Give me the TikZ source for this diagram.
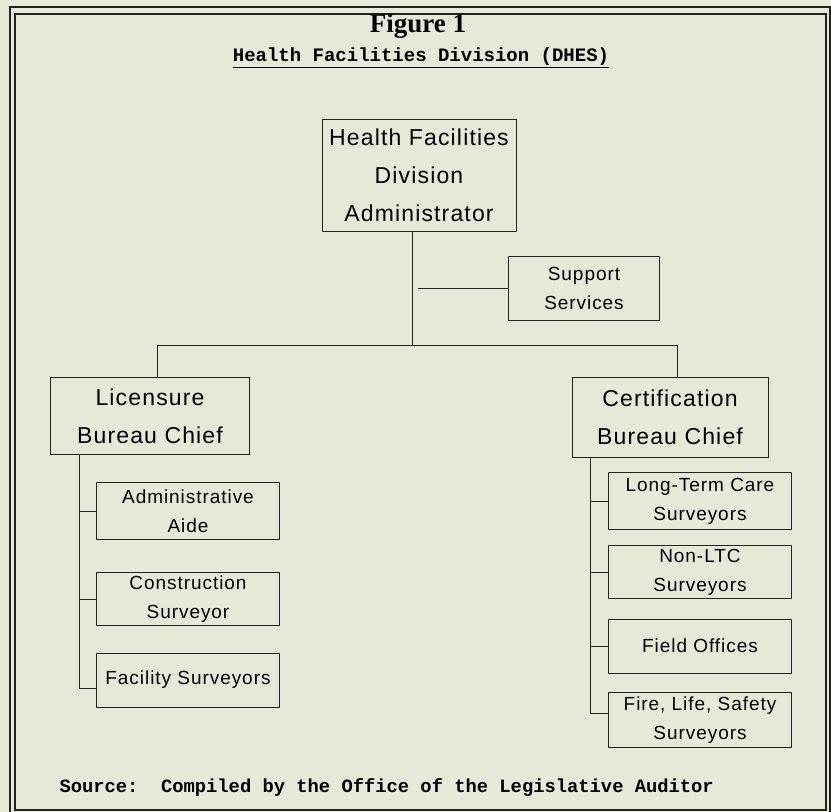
\documentclass[tikz,border=0pt]{standalone}
\usepackage{fontspec}
\setmainfont{Liberation Sans}
\newfontfamily\bigboxfont[LetterSpace=5]{Liberation Sans}
\newfontfamily\smallboxfont[LetterSpace=5]{Liberation Sans}
\newfontfamily\figfont{Liberation Serif}
\newfontfamily\typefont{Liberation Mono}
\definecolor{paper}{RGB}{232,232,217}
\definecolor{ink}{RGB}{35,35,30}

\begin{document}
\begin{tikzpicture}[x=1pt,y=-1pt,
    bigbox/.style={draw=ink,line width=1pt,align=center,inner sep=0pt,
      font=\bigboxfont\fontsize{23}{38}\selectfont},
    smallbox/.style={draw=ink,line width=1pt,align=center,inner sep=0pt,
      minimum width=183pt,font=\smallboxfont\fontsize{19}{29}\selectfont},
    link/.style={draw=ink,line width=1pt}]
    \fill[paper] (0,0) rectangle (831,812);
    \useasboundingbox (0,0) rectangle (831,812);
    % frame
    \draw[ink,line width=2pt] (10,820) -- (10,7) -- (830,7) -- (830,820);
    \draw[ink,line width=2pt] (15,14) rectangle (826,810);
    % headings
    \node (fig) at (418,26) {\figfont\bfseries\fontsize{27}{27}\selectfont Figure 1};
    \node (sub) at (421,58) {\typefont\bfseries\fontsize{19}{19}\selectfont\underline{Health Facilities Division (DHES)}};
    % boxes
    \node[bigbox,minimum width=194pt,minimum height=112pt] (adm) at (419,175)
      {Health Facilities\\Division\\Administrator};
    \node[smallbox,minimum width=151pt,minimum height=64pt] (supp) at (584,288)
      {Support\\Services};
    \node[bigbox,minimum width=199pt,minimum height=77pt] (lic) at (150,416)
      {Licensure\\Bureau Chief};
    \node[bigbox,minimum width=196pt,minimum height=80pt] (cert) at (670,417)
      {Certification\\Bureau Chief};
    \node[smallbox,minimum height=57pt] (aide) at (188,511) {Administrative\\Aide};
    \node[smallbox,minimum height=53pt] (cons) at (188,599) {Construction\\Surveyor};
    \node[smallbox,minimum height=54pt] (fac) at (188,680) {Facility Surveyors};
    \node[smallbox,minimum height=57pt] (ltc) at (700,501) {Long-Term Care\\Surveyors};
    \node[smallbox,minimum height=53pt] (nonltc) at (700,572) {Non-LTC\\Surveyors};
    \node[smallbox,minimum height=54pt] (field) at (700,646) {Field Offices};
    \node[smallbox,minimum height=55pt] (fire) at (700,720) {Fire, Life, Safety\\Surveyors};
    % connectors
    \coordinate (bus) at (412,345);
    \coordinate (busL) at (157,345);
    \coordinate (busR) at (677,345);
    \coordinate (sj) at (418,288);
    \coordinate (lt) at (79,688);
    \coordinate (ct) at (590,713);
    \draw[link] (adm.south -| bus) -- (bus);
    \draw[link] (sj) -- (supp.west);
    \draw[link] (lic.north -| busL) -- (busL) -- (busR) -- (cert.north -| busR);
    \draw[link] (lic.south -| lt) -- (lt) -- (fac.west |- lt);
    \draw[link] (cert.south -| ct) -- (ct) -- (fire.west |- ct);
    \foreach \b in {aide,cons}
      \draw[link] (\b.west -| lt) -- (\b.west);
    \foreach \b in {ltc,nonltc,field}
      \draw[link] (\b.west -| ct) -- (\b.west);
    % source
    \node[anchor=west] (src) at (56,788) {\typefont\bfseries\fontsize{18.8}{18.8}\selectfont Source:\ \ Compiled by the Office of the Legislative Auditor};
\end{tikzpicture}
\end{document}
